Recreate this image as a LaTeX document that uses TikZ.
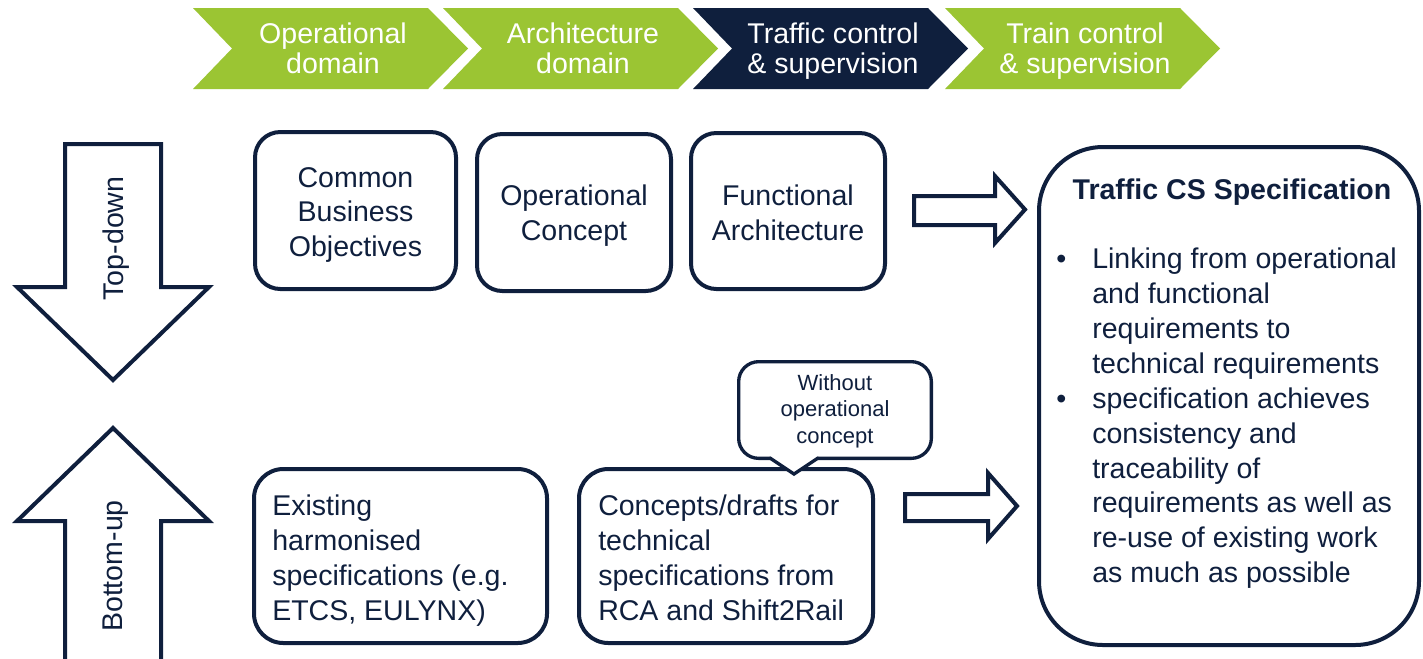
\documentclass[tikz,border=0pt]{standalone}
\usepackage{fontspec}
\setmainfont{Liberation Sans}
\usetikzlibrary{calc}
\definecolor{navy}{RGB}{15,31,61}
\definecolor{lgreen}{RGB}{155,197,51}
\begin{document}
\begin{tikzpicture}[x=0.75pt,y=-0.75pt,
  chevtxt/.style={text=white,align=center,inner sep=0pt,
    font=\fontsize{21.4pt}{22.5pt}\selectfont,
    execute at begin node=\strut, execute at end node=\strut},
  topbox/.style={draw=navy,line width=3pt,rounded corners=19pt,inner sep=0pt},
  toptxt/.style={text=navy,align=center,inner sep=0pt,font=\fontsize{21.4pt}{26pt}\selectfont,
    execute at begin node=\strut, execute at end node=\strut},
  botbox/.style={draw=navy,line width=3pt,rounded corners=22pt,inner sep=0pt},
  bottxt/.style={text=navy,align=left,inner sep=0pt,anchor=west,
    font=\fontsize{21.4pt}{26.25pt}\selectfont,
    execute at begin node=\strut, execute at end node=\strut},
  blockarrow/.style={draw=navy,line width=3pt,fill=white},
  vtxt/.style={text=navy,inner sep=0pt,rotate=90,font=\fontsize{21.4pt}{26pt}\selectfont},
  callbox/.style={draw=navy,line width=2.5pt,fill=white,rounded corners=15pt,inner sep=0pt},
  calltxt/.style={text=navy,align=center,inner sep=0pt,font=\fontsize{16.5pt}{20pt}\selectfont,
    execute at begin node=\strut, execute at end node=\strut}
]
\useasboundingbox (0,0) rectangle (1423,658);

% chevrons
\foreach \L/\col in {193/lgreen,443/lgreen,693/navy,945/lgreen}{
  \fill[\col] (\L,8) -- (\L+235,8) -- (\L+275,48.5) -- (\L+235,89) -- (\L,89) -- (\L+39,48.5) -- cycle;
}
\node[chevtxt] (c1) at (333,53) {Operational\\domain};
\node[chevtxt] (c2) at (583,53) {Architecture\\domain};
\node[chevtxt] (c3) at (833,53) {Traffic control\\\& supervision};
\node[chevtxt] (c4) at (1085,53) {Train control\\\& supervision};

% top-down / bottom-up arrows
\draw[blockarrow] (65,144) -- (161,144) -- (161,287) -- (209,287) -- (113,380) -- (17,287) -- (65,287) -- cycle;
\node[vtxt] (td) at (116,238.5) {Top-down};
\draw[blockarrow] (65,664) -- (65,521) -- (17,521) -- (113,428) -- (209,521) -- (161,521) -- (161,664) -- cycle;
\node[vtxt] (bu) at (116,566) {Bottom-up};

% top row boxes
\node[topbox,minimum width=150.75pt,minimum height=117.75pt] (cbo) at (355.5,210.5) {};
\node[toptxt] (cbot) at (355.5,217) {Common\\Business\\Objectives};
\node[topbox,minimum width=145.5pt,minimum height=117.75pt] (oc) at (574,212.5) {};
\node[toptxt] (oct) at (574,218) {Operational\\Concept};
\node[topbox,minimum width=145.5pt,minimum height=117pt] (fa) at (788,211) {};
\node[toptxt] (fat) at (788,218) {Functional\\Architecture};

% bottom row boxes
\node[botbox,minimum width=219.75pt,minimum height=130.5pt] (ehs) at (400.5,556) {};
\node[bottxt] (ehst) at (272,563) {Existing\\harmonised\\specifications (e.g.\\ETCS, EULYNX)};
\node[botbox,minimum width=220.5pt,minimum height=130.5pt] (cd) at (726,556) {};
\node[bottxt] (cdt) at (598,562.5) {Concepts/drafts for\\technical\\specifications from\\RCA and Shift2Rail};

% callout
\node[callbox,minimum width=144.5pt,minimum height=72.5pt] (wo) at (835,410) {};
\node[calltxt] (wot) at (835,413) {Without\\operational\\concept};
\fill[white] (771,455) rectangle (817,461);
\draw[navy,line width=2.5pt,fill=white,line cap=round,line join=miter] (770,458) -- (794,474) -- (818,458);

% horizontal block arrows
\draw[blockarrow] (914,196) -- (995,196) -- (995,176) -- (1025,209.5) -- (995,243) -- (995,225) -- (914,225) -- cycle;
\draw[blockarrow] (905,494) -- (988,494) -- (988,473) -- (1017,506) -- (988,539) -- (988,521) -- (905,521) -- cycle;

% right box
\node[draw=navy,line width=3pt,rounded corners=48pt,minimum width=285pt,minimum height=373.5pt,inner sep=0pt] (spec) at (1229,396) {};
\node[text=navy,inner sep=0pt,anchor=base,font=\fontsize{21.4pt}{26pt}\selectfont\bfseries] (title) at (1232,199) {Traffic CS Specification};
\node[bottxt,font=\fontsize{21.4pt}{26.2pt}\selectfont] (lst) at (1056,420.5) {\makebox[27pt][l]{•}Linking from operational\\
\hspace*{27pt}and functional\\
\hspace*{27pt}requirements to\\
\hspace*{27pt}technical requirements\\
\makebox[27pt][l]{•}specification achieves\\
\hspace*{27pt}consistency and\\
\hspace*{27pt}traceability of\\
\hspace*{27pt}requirements as well as\\
\hspace*{27pt}re-use of existing work\\
\hspace*{27pt}as much as possible};
\end{tikzpicture}
\end{document}
